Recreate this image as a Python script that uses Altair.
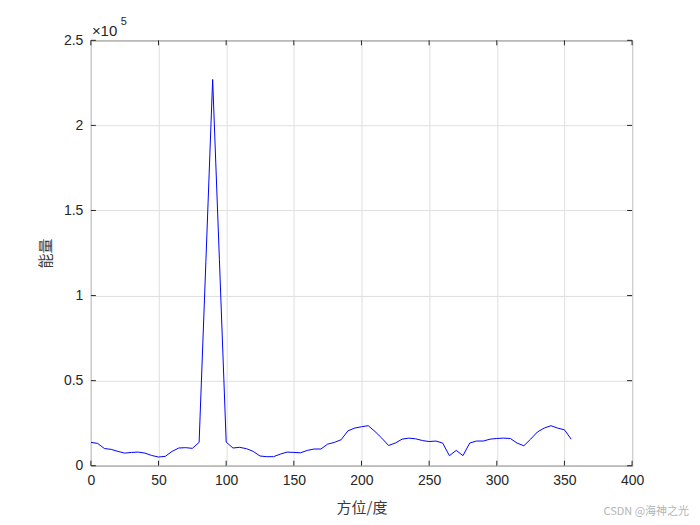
import altair as alt
import pandas as pd

angles = [0, 5, 10, 15, 20, 25, 30, 35, 40, 45, 50, 55, 60, 65, 70, 75, 80, 85,
          90, 95, 100, 105, 110, 115, 120, 125, 130, 135, 140, 145, 150, 155, 160, 165,
          170, 175, 180, 185, 190, 195, 200, 205, 210, 215, 220, 225, 230, 235, 240, 245,
          250, 255, 260, 265, 270, 275, 280, 285, 290, 295, 300, 305, 310, 315, 320, 325,
          330, 335, 340, 345, 350, 355]
energy = [13700, 13100, 10100, 9600, 8400, 7400, 7800, 8000, 7400, 6000, 5100, 5500,
          8400, 10400, 10600, 10200, 13700, 120000, 227000, 121000, 13900, 10400, 10800,
          10000, 8400, 5700, 5300, 5300, 6800, 8000, 7800, 7600, 9000, 9800, 9800, 12700,
          13700, 15300, 20500, 22100, 22900, 23500, 20100, 16200, 11900, 13300, 15600,
          16200, 15800, 14800, 14200, 14500, 13300, 5900, 9000, 5900, 13300, 14500, 14500,
          15600, 16000, 16200, 16000, 13300, 11700, 15600, 19800, 22100, 23500, 22100,
          21100, 15600]
x_ticks = [0, 50, 100, 150, 200, 250, 300, 350, 400]
y_ticks = [0, 50000, 100000, 150000, 200000, 250000]

W, H = 542, 426
FONT = "Liberation Sans"
CJK = "Noto Sans CJK SC"
TXT = "#262626"

df = pd.DataFrame({"angle": angles, "energy": energy})
xt = pd.DataFrame({"v": x_ticks})
yt = pd.DataFrame({"v": y_ticks})

xscale = alt.Scale(domain=[0, 400], nice=False, zero=False)
yscale = alt.Scale(domain=[0, 250000], nice=False, zero=False)

line = alt.Chart(df).mark_line(color="#0000ff", strokeWidth=1, clip=True).encode(
    x=alt.X("angle:Q", scale=xscale,
            axis=alt.Axis(values=x_ticks, title="方位/度", grid=True, gridColor="#dfdfdf",
                          tickSize=0, domain=False, labelFont=FONT, labelFontSize=14,
                          labelColor=TXT, labelPadding=8, labelFlush=False,
                          titleFont=CJK, titleFontSize=15,
                          titleFontWeight="normal", titleColor="#3a3a3a", titlePadding=13)),
    y=alt.Y("energy:Q", scale=yscale,
            axis=alt.Axis(values=y_ticks, title="能量", grid=True, gridColor="#dfdfdf",
                          tickSize=0, domain=False, labelFont=FONT, labelFontSize=14,
                          labelColor=TXT, labelPadding=8, labelFlush=False,
                          labelExpr="datum.value / 100000",
                          titleFont=CJK, titleFontSize=15, titleFontWeight="normal",
                          titleColor="#3a3a3a", titlePadding=10)),
)

tick_len = 5
bottom_t = alt.Chart(xt).mark_rule(color=TXT, strokeWidth=1).encode(
    x=alt.X("v:Q", scale=xscale), y=alt.value(H), y2=alt.value(H - tick_len))
top_t = alt.Chart(xt).mark_rule(color=TXT, strokeWidth=1).encode(
    x=alt.X("v:Q", scale=xscale), y=alt.value(0), y2=alt.value(tick_len))
left_t = alt.Chart(yt).mark_rule(color=TXT, strokeWidth=1).encode(
    y=alt.Y("v:Q", scale=yscale), x=alt.value(0), x2=alt.value(tick_len))
right_t = alt.Chart(yt).mark_rule(color=TXT, strokeWidth=1).encode(
    y=alt.Y("v:Q", scale=yscale), x=alt.value(W), x2=alt.value(W - tick_len))

exp_base = alt.Chart(pd.DataFrame({"t": ["×10"]})).mark_text(
    font=FONT, fontSize=15, color=TXT, align="left", baseline="alphabetic").encode(
    text="t:N", x=alt.value(1), y=alt.value(-4))
exp_sup = alt.Chart(pd.DataFrame({"t": ["5"]})).mark_text(
    font=FONT, fontSize=11, color=TXT, align="left", baseline="alphabetic").encode(
    text="t:N", x=alt.value(30), y=alt.value(-15))
watermark = alt.Chart(pd.DataFrame({"t": ["CSDN @海神之光"]})).mark_text(
    font=CJK, fontSize=11, color="#b4b4b4", align="right", baseline="middle").encode(
    text="t:N", x=alt.value(W + 57), y=alt.value(H + 46))

chart = alt.layer(line, bottom_t, top_t, left_t, right_t, exp_base, exp_sup, watermark).properties(
    width=W, height=H,
    autosize=alt.AutoSizeParams(type="none"),
    padding={"left": 83, "top": 32, "right": 60, "bottom": 52},
    background="white",
).configure_view(stroke=TXT, strokeWidth=1)

chart.save("out.html", embed_options={"renderer": "svg", "actions": False})
